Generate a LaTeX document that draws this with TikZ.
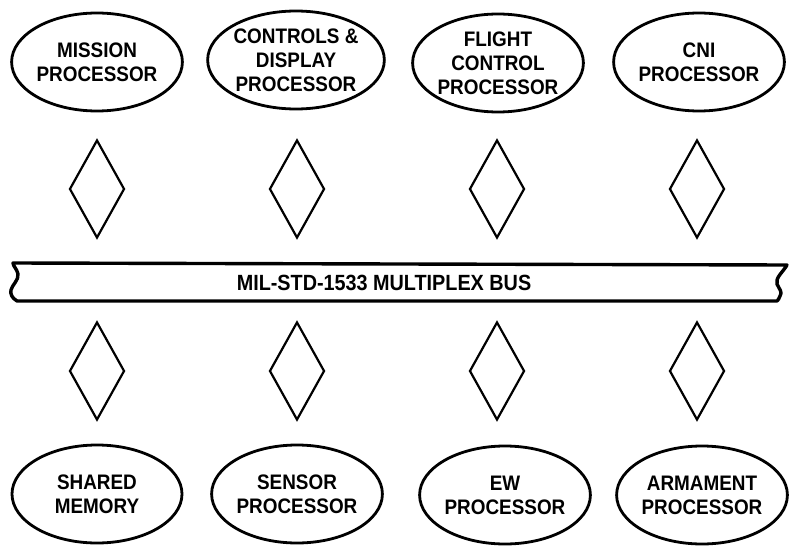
\documentclass[tikz,border=0pt]{standalone}
\usepackage{fontspec}
\setmainfont{Liberation Sans}
\newfontfamily\lblfont[FakeStretch=0.9]{Liberation Sans}
\usetikzlibrary{shapes.geometric}
\begin{document}
\begin{tikzpicture}[x=1pt,y=-1pt,
  unit/.style={ellipse, draw, line width=2.8pt, minimum width=170pt, minimum height=98pt,
    inner sep=0pt, align=center, font=\lblfont\bfseries\fontsize{21}{24}\selectfont},
  link/.style={diamond, draw, line width=2.2pt, minimum width=55pt, minimum height=98pt, inner sep=0pt},
  busline/.style={draw, line width=3.4pt, line join=round},
  buslabel/.style={font=\lblfont\bfseries\fontsize{22}{24}\selectfont, inner sep=0pt}
]
\useasboundingbox (0,0) rectangle (791,548);
% top units
\node[unit] (mission) at (97,62) {MISSION\\PROCESSOR};
\node[unit] (cdp) at (296,60) {CONTROLS \&\\DISPLAY\\PROCESSOR};
\node[unit] (fcp) at (498,63) {FLIGHT\\CONTROL\\PROCESSOR};
\node[unit] (cni) at (699,62) {CNI\\PROCESSOR};
% top links
\node[link] (l1) at (97,189) {};
\node[link] (l2) at (297,189) {};
\node[link] (l3) at (497,189) {};
\node[link] (l4) at (697,189) {};
% bus
\draw[busline] (13,263) -- (787,265)
  .. controls (783,272) and (775,278) .. (777,284)
  .. controls (779,289) and (783,292) .. (780,296)
  .. controls (779,299) and (778,300) .. (777,301)
  -- (17,301)
  .. controls (12,298) and (10,294) .. (11,290)
  .. controls (12,285) and (19,280) .. (18,274)
  .. controls (17,269) and (13,266) .. cycle;
\node[buslabel] (bus) at (384,283) {MIL-STD-1533 MULTIPLEX BUS};
% bottom links
\node[link] (l5) at (97,371) {};
\node[link] (l6) at (297,371) {};
\node[link] (l7) at (497,371) {};
\node[link] (l8) at (697,371) {};
% bottom units
\node[unit] (mem) at (97,494) {SHARED\\MEMORY};
\node[unit] (sen) at (297,494) {SENSOR\\PROCESSOR};
\node[unit] (ew) at (505,495) {EW\\PROCESSOR};
\node[unit] (arm) at (702,495) {ARMAMENT\\PROCESSOR};
\end{tikzpicture}
\end{document}
